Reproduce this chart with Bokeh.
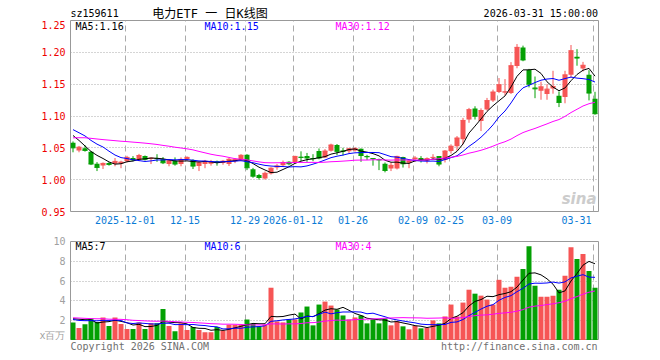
import pandas as pd
from bokeh.plotting import figure
from bokeh.layouts import column
from bokeh.models import Range1d, FixedTicker, Label, PrintfTickFormatter
from bokeh.core.properties import value
from bokeh.embed import file_html
from bokeh.resources import INLINE

# ---------------- data ----------------
TICK_IDX = [9, 19, 29, 37, 47, 57, 63, 71, 87]
TICK_LABELS = ["2025-12-01", "12-15", "12-29", "2026-01-12", "01-26",
               "02-09", "02-25", "03-09", "03-31"]
PRICE_TICKS = [0.95, 1.00, 1.05, 1.10, 1.15, 1.20, 1.25]
PRICE_GRID = [1.00, 1.05, 1.10, 1.15, 1.20]
VOL_TICKS = [0, 2, 4, 6, 8, 10]
VOL_GRID = [2, 4, 6, 8]

OPEN = [1.058, 1.046, 1.0495, 1.0437, 1.025, 1.0224, 1.026, 1.025, 1.0255, 1.029,
        1.034, 1.031, 1.037, 1.033, 1.034, 1.032, 1.0245, 1.0297, 1.0245, 1.032,
        1.031, 1.0214, 1.0247, 1.025, 1.029, 1.026, 1.0247, 1.029, 1.030, 1.039,
        1.0165, 1.0075, 1.002, 1.0095, 1.019, 1.0225, 1.028, 1.026, 1.036, 1.037,
        1.034, 1.045, 1.035, 1.0455, 1.0545, 1.046, 1.0445, 1.046, 1.0485, 1.037,
        1.034, 1.032, 1.025, 1.0175, 1.0175, 1.0355, 1.0265, 1.032, 1.034, 1.0305,
        1.034, 1.037, 1.031, 1.045, 1.0525, 1.0635, 1.0945, 1.1117, 1.092, 1.1101,
        1.1242, 1.1377, 1.137, 1.136, 1.1786, 1.2075, 1.1724, 1.1448, 1.1396, 1.1344,
        1.143, 1.1318, 1.1297, 1.1646, 1.193, 1.1745, 1.1646, 1.127]
HIGH = [1.060, 1.053, 1.054, 1.045, 1.0276, 1.027, 1.0276, 1.034, 1.0297, 1.0375,
        1.037, 1.0405, 1.038, 1.0345, 1.040, 1.0355, 1.032, 1.035, 1.035, 1.0365,
        1.032, 1.029, 1.031, 1.031, 1.030, 1.031, 1.034, 1.034, 1.040, 1.040,
        1.0185, 1.009, 1.0128, 1.0195, 1.0245, 1.030, 1.029, 1.0375, 1.0445, 1.042,
        1.040, 1.049, 1.048, 1.0565, 1.056, 1.050, 1.050, 1.051, 1.049, 1.039,
        1.034, 1.033, 1.027, 1.027, 1.0375, 1.036, 1.032, 1.037, 1.037, 1.035,
        1.040, 1.037, 1.0465, 1.0555, 1.0685, 1.097, 1.1127, 1.1153, 1.112, 1.1284,
        1.1414, 1.1596, 1.158, 1.1846, 1.213, 1.2105, 1.174, 1.162, 1.154, 1.150,
        1.171, 1.1386, 1.171, 1.2115, 1.205, 1.185, 1.172, 1.138]
LOW = [1.043, 1.043, 1.044, 1.0229, 1.0135, 1.0167, 1.022, 1.021, 1.018, 1.027,
       1.029, 1.029, 1.030, 1.0245, 1.028, 1.0245, 1.021, 1.022, 1.021, 1.030,
       1.0167, 1.0135, 1.018, 1.022, 1.022, 1.0235, 1.0215, 1.026, 1.029, 1.015,
       1.003, 1.000, 1.000, 1.008, 1.0155, 1.0215, 1.0225, 1.025, 1.029, 1.028,
       1.029, 1.032, 1.034, 1.044, 1.0385, 1.038, 1.041, 1.044, 1.028, 1.031,
       1.022, 1.015, 1.0115, 1.0135, 1.016, 1.019, 1.018, 1.028, 1.027, 1.0255,
       1.031, 1.021, 1.027, 1.041, 1.0455, 1.0555, 1.0893, 1.0945, 1.0763, 1.1085,
       1.122, 1.136, 1.1325, 1.1345, 1.175, 1.186, 1.145, 1.128, 1.1255, 1.1255,
       1.135, 1.114, 1.120, 1.160, 1.179, 1.170, 1.1245, 1.102]
CLOSE = [1.050, 1.051, 1.046, 1.0245, 1.0193, 1.0255, 1.024, 1.0287, 1.0276, 1.035,
         1.031, 1.038, 1.032, 1.034, 1.033, 1.0265, 1.0297, 1.0245, 1.0318, 1.035,
         1.0213, 1.0266, 1.029, 1.028, 1.027, 1.029, 1.032, 1.032, 1.0383, 1.0187,
         1.0055, 1.0035, 1.010, 1.018, 1.0215, 1.027, 1.025, 1.0365, 1.035, 1.034,
         1.033, 1.034, 1.045, 1.0545, 1.0445, 1.0445, 1.0485, 1.049, 1.038, 1.036,
         1.033, 1.031, 1.0145, 1.0225, 1.0365, 1.025, 1.0295, 1.034, 1.031, 1.033,
         1.035, 1.0245, 1.045, 1.0525, 1.0655, 1.093, 1.110, 1.0997, 1.1086, 1.1242,
         1.1377, 1.1492, 1.138, 1.179, 1.2078, 1.188, 1.150, 1.1427, 1.1458, 1.1422,
         1.1464, 1.1214, 1.1646, 1.2026, 1.191, 1.1797, 1.136, 1.1036]
VOLUME = [1.83, 1.27, 1.63, 2.23, 1.87, 2.33, 1.47, 2.33, 1.67, 1.17,
          1.17, 1.83, 1.17, 1.73, 1.73, 3.17, 1.47, 0.93, 1.73, 1.07,
          1.37, 1.07, 0.83, 0.83, 1.37, 1.00, 1.60, 1.60, 1.60, 2.13,
          1.70, 1.43, 1.60, 5.33, 1.93, 1.83, 2.13, 2.13, 2.83, 3.43,
          1.53, 3.63, 3.93, 3.53, 3.13, 2.53, 2.13, 2.33, 2.53, 1.73,
          2.13, 1.73, 2.23, 1.53, 1.93, 1.43, 1.13, 1.47, 1.23, 1.27,
          2.03, 1.73, 2.43, 3.63, 2.43, 3.83, 5.13, 4.73, 4.53, 4.13,
          3.63, 6.13, 5.33, 5.43, 6.43, 7.23, 9.53, 5.53, 4.43, 4.43,
          4.53, 5.13, 6.53, 9.43, 8.23, 8.73, 7.03, 5.33]

# sessions before the visible window (estimated so the MA lines start where they do)
PRE_CLOSE = [1.045, 1.048, 1.052, 1.050, 1.055, 1.049, 1.053, 1.054, 1.053,
             1.056, 1.060, 1.058, 1.063, 1.066, 1.070, 1.068, 1.072, 1.069, 1.074, 1.070,
             1.100, 1.096, 1.095, 1.078, 1.070, 1.090, 1.089, 1.068, 1.050]
PRE_VOLUME = [2.1, 2.6, 3.0, 2.4, 2.2, 2.8, 2.5, 2.0, 2.3, 2.9, 2.6, 2.2, 2.4, 2.1, 2.7,
              2.3, 2.0, 2.5, 2.2, 1.8, 2.3, 1.9, 2.2, 2.0, 1.9, 1.52, 1.88, 2.23, 3.54]

PRICE_LEGEND = ["MA5:1.16", "MA10:1.15", "MA30:1.12"]
VOL_LEGEND = ["MA5:7", "MA10:6", "MA30:4"]
SYMBOL = "sz159611"
TITLE = "电力ETF 一 日K线图"
STAMP = "2026-03-31 15:00:00"
COPYRIGHT = "Copyright 2026 SINA.COM"
URL = "http://finance.sina.com.cn"

# ---------------- helpers ----------------
def moving_avg(pre, vals, n):
    s = pd.Series(list(pre) + list(vals))
    return s.rolling(n).mean().tolist()[len(pre):]

N = len(CLOSE)
IDX = list(range(N))
UP = "#F65555"
DOWN = "#04A004"
COLORS = [UP if c >= o else DOWN for o, c in zip(OPEN, CLOSE)]
TOPS = [max(o, c) for o, c in zip(OPEN, CLOSE)]
BOTS = [min(o, c) for o, c in zip(OPEN, CLOSE)]

MA_COLORS = ["#000000", "#0000FF", "#FF00FF"]
FONT = "DejaVu Sans Mono"
GRID_COL = "#aaaaaa"
FRAME_COL = "#999999"
DATE_COL = "#0A7BD6"

FIG_W = 608
LEFT = 70
RIGHT = FIG_W - LEFT - 6 * N    # frame 528 px wide

X0 = -5.0 / 12.0
XR = Range1d(X0, X0 + N)
GRID_X = [i - 1.0 / 3.0 for i in TICK_IDX]
# last date label sits left of its grid line (kept inside the frame)
LABEL_X = GRID_X[:-1] + [GRID_X[-1] - 2.75]


def style_common(f):
    f.outline_line_color = FRAME_COL
    f.outline_line_width = 1
    f.background_fill_color = "white"
    f.border_fill_color = "white"
    f.xgrid.ticker = FixedTicker(ticks=GRID_X)
    f.xgrid.grid_line_color = GRID_COL
    f.xgrid.grid_line_dash = "6 4"
    f.ygrid.grid_line_color = GRID_COL
    f.ygrid.grid_line_dash = "1 2"
    for ax in f.yaxis:
        ax.axis_line_color = None
        ax.major_tick_line_color = None
        ax.minor_tick_line_color = None
        ax.major_tick_out = 0
        ax.major_tick_in = 0
        ax.major_label_standoff = 5
        ax.major_label_text_font = FONT
        ax.major_label_text_font_size = "10px"


def add_label(f, x, y, text, color, xo=0, yo=0, align="left", size="10px",
              font=FONT, style="normal"):
    f.add_layout(Label(x=x, y=y, x_offset=xo, y_offset=yo, text=text,
                       text_color=color, text_align=align, text_baseline="middle",
                       text_font=font, text_font_size=size, text_font_style=style))


def text_strip(height):
    # the column layout aligns this strip's frame with the panels' frames,
    # so its x range is expressed in page pixels of that frame (70 .. 598)
    f = figure(width=FIG_W, height=height, x_range=Range1d(LEFT, FIG_W - RIGHT),
               y_range=Range1d(height, 0), x_axis_type=None, y_axis_type=None,
               output_backend="svg", toolbar_location=None,
               min_border_left=LEFT, min_border_right=RIGHT,
               min_border_top=0, min_border_bottom=0)
    f.outline_line_color = None
    f.background_fill_color = "white"
    f.border_fill_color = "white"
    return f


# ---------------- header row ----------------
h = text_strip(20)
h.text(x=[70], y=[13], text=[SYMBOL], text_color="#000000", text_baseline="middle",
       text_align="left", text_font=value(FONT), text_font_size="10px")
h.text(x=[209.5], y=[13], text=[TITLE], text_color="#000000", text_baseline="middle",
       text_align="center", text_font=value("DejaVu Sans Mono, Noto Sans CJK SC"),
       text_font_size="12px")
h.text(x=[597.5], y=[13], text=[STAMP], text_color="#000000", text_baseline="middle",
       text_align="right", text_font=value(FONT), text_font_size="10px")

# ---------------- price panel ----------------
p = figure(width=FIG_W, height=212, x_range=XR, y_range=Range1d(0.95, 1.25),
           output_backend="svg", toolbar_location=None,
           min_border_left=LEFT, min_border_right=RIGHT, min_border_top=0, min_border_bottom=21)
style_common(p)
p.ygrid.ticker = FixedTicker(ticks=PRICE_GRID)
p.yaxis.ticker = FixedTicker(ticks=PRICE_TICKS)
p.yaxis.formatter = PrintfTickFormatter(format="%.2f")
p.yaxis.major_label_text_color = "#EE0000"

p.xaxis.ticker = FixedTicker(ticks=LABEL_X)
p.xaxis.major_label_overrides = {g: t for g, t in zip(LABEL_X, TICK_LABELS)}
p.xaxis.axis_line_color = None
p.xaxis.major_tick_line_color = None
p.xaxis.minor_tick_line_color = None
p.xaxis.major_tick_out = 0
p.xaxis.major_tick_in = 0
p.xaxis.major_label_standoff = 4
p.xaxis.major_label_text_color = DATE_COL
p.xaxis.major_label_text_font = FONT
p.xaxis.major_label_text_font_size = "10px"

p.segment(x0=IDX, y0=LOW, x1=IDX, y1=HIGH, line_color=COLORS, line_width=1)
p.vbar(x=IDX, top=TOPS, bottom=BOTS, width=5.0 / 6.0, fill_color=COLORS, line_color=None)
p.scatter(x=IDX, y=CLOSE, marker="dash", size=5, line_color=COLORS, line_width=1)

for n, col in zip([5, 10, 30], MA_COLORS):
    p.line(IDX, moving_avg(PRE_CLOSE, CLOSE, n), line_color=col, line_width=1)

for txt, col, xo in zip(PRICE_LEGEND, MA_COLORS, [5, 134, 265]):
    add_label(p, X0, 1.25, txt, col, xo=xo, yo=-6)
add_label(p, X0 + N, 0.95, "sina", "#cccccc", xo=-2, yo=13, align="right",
          size="15px", font="DejaVu Sans", style="bold italic")

# ---------------- volume panel ----------------
q = figure(width=FIG_W, height=108, x_range=XR, y_range=Range1d(0, 10),
           output_backend="svg", toolbar_location=None,
           min_border_left=LEFT, min_border_right=RIGHT, min_border_top=9, min_border_bottom=0)
style_common(q)
q.xaxis.visible = False
q.ygrid.ticker = FixedTicker(ticks=VOL_GRID)
q.yaxis.ticker = FixedTicker(ticks=VOL_TICKS)
q.yaxis.major_label_overrides = {0: "x百万"}
q.yaxis.major_label_text_color = "#a0a0a0"

q.vbar(x=IDX, top=VOLUME, bottom=0, width=5.0 / 6.0, fill_color=COLORS, line_color=None)
for n, col in zip([5, 10, 30], MA_COLORS):
    q.line(IDX, moving_avg(PRE_VOLUME, VOLUME, n), line_color=col, line_width=1)

for txt, col, xo in zip(VOL_LEGEND, MA_COLORS, [5, 134, 265]):
    add_label(q, X0, 10, txt, col, xo=xo, yo=-5)

# ---------------- footer row ----------------
ft = text_strip(16)
ft.text(x=[70], y=[5.5], text=[COPYRIGHT], text_color="#707070", text_baseline="middle",
        text_align="left", text_font=value(FONT), text_font_size="10px")
ft.text(x=[597], y=[5.5], text=[URL], text_color="#707070", text_baseline="middle",
        text_align="right", text_font=value(FONT), text_font_size="10px")

layout = column(h, p, q, ft, spacing=0)
open("out.html", "w").write(file_html(layout, INLINE))
